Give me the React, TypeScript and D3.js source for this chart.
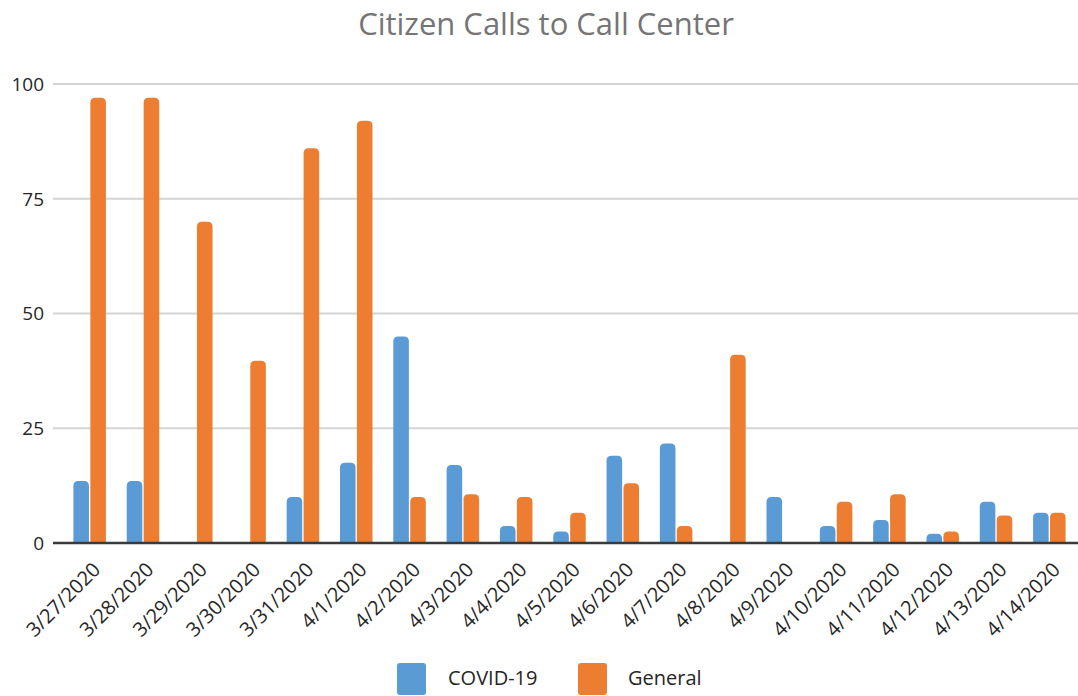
import React, { useRef, useEffect } from 'react';
import * as d3 from 'd3';

const dates = [
  '3/27/2020', '3/28/2020', '3/29/2020', '3/30/2020', '3/31/2020', '4/1/2020',
  '4/2/2020', '4/3/2020', '4/4/2020', '4/5/2020', '4/6/2020', '4/7/2020',
  '4/8/2020', '4/9/2020', '4/10/2020', '4/11/2020', '4/12/2020', '4/13/2020', '4/14/2020',
];
const covid = [13.5, 13.5, 0, 0, 10, 17.5, 45, 17, 3.7, 2.5, 19, 21.7, 0, 10, 3.7, 5, 2, 9, 6.6];
const general = [97, 97, 70, 39.7, 86, 92, 10, 10.6, 10, 6.6, 13, 3.7, 41, 0, 9, 10.6, 2.5, 6, 6.6];
const seriesNames = ['COVID-19', 'General'];
const yTicks = [0, 25, 50, 75, 100];

const colors = ['#5B9BD5', '#ED7D31'];
const font = '"Open Sans", sans-serif';

const App = () => {
  const svgRef = useRef<SVGSVGElement>(null);

  useEffect(() => {
    const width = 1078;
    const height = 696;
    const plot = { left: 63, right: 1076, top: 84, bottom: 543 };
    const gridLeft = 53;

    const svg = d3.select(svgRef.current)
      .attr('width', width)
      .attr('height', height)
      .style('background', '#ffffff');
    svg.selectAll('*').remove();

    const x = d3.scaleBand<string>()
      .domain(dates)
      .range([plot.left, plot.right])
      .paddingInner(0)
      .paddingOuter(0);

    // inner band for the two series, centred in each date slot
    const clusterWidth = x.bandwidth() * 0.61;
    const xSeries = d3.scaleBand<string>()
      .domain(seriesNames)
      .range([0, clusterWidth])
      .paddingInner(0.08);

    const y = d3.scaleLinear()
      .domain([0, 100])
      .range([plot.bottom, plot.top]);

    // title
    svg.append('text')
      .attr('x', 546)
      .attr('y', 35)
      .attr('text-anchor', 'middle')
      .style('font-family', font)
      .style('font-size', '31px')
      .style('fill', '#757575')
      .text('Citizen Calls to Call Center');

    // gridlines + y labels
    const grid = svg.append('g');
    grid.selectAll('line')
      .data(yTicks.filter((t) => t !== 0))
      .join('line')
      .attr('x1', gridLeft)
      .attr('x2', width)
      .attr('y1', (d) => y(d))
      .attr('y2', (d) => y(d))
      .attr('stroke', '#d4d4d4')
      .attr('stroke-width', 2);

    svg.append('g')
      .selectAll('text')
      .data(yTicks)
      .join('text')
      .attr('x', 44)
      .attr('y', (d) => y(d))
      .attr('dy', '0.36em')
      .attr('text-anchor', 'end')
      .style('font-family', font)
      .style('font-size', '19px')
      .style('fill', '#262626')
      .text((d) => String(d));

    // bars with rounded tops
    const barPath = (x0: number, w: number, v: number) => {
      const y0 = y(0);
      const y1 = y(v);
      const r = Math.min(5, w / 2, (y0 - y1));
      const p = d3.path();
      p.moveTo(x0, y0);
      p.lineTo(x0, y1 + r);
      p.quadraticCurveTo(x0, y1, x0 + r, y1);
      p.lineTo(x0 + w - r, y1);
      p.quadraticCurveTo(x0 + w, y1, x0 + w, y1 + r);
      p.lineTo(x0 + w, y0);
      p.closePath();
      return p.toString();
    };

    const series = [covid, general];
    series.forEach((values, si) => {
      svg.append('g')
        .selectAll('path')
        .data(values.map((v, i) => ({ v, date: dates[i] })).filter((d) => d.v > 0))
        .join('path')
        .attr('d', (d) => {
          const x0 = (x(d.date) as number) + (x.bandwidth() - clusterWidth) / 2 + (xSeries(seriesNames[si]) as number);
          return barPath(x0, xSeries.bandwidth(), d.v);
        })
        .attr('fill', colors[si]);
    });

    // zero axis line
    svg.append('line')
      .attr('x1', gridLeft)
      .attr('x2', width)
      .attr('y1', y(0))
      .attr('y2', y(0))
      .attr('stroke', '#3a3a3a')
      .attr('stroke-width', 2.5);

    // x labels, rotated
    svg.append('g')
      .selectAll('text')
      .data(dates)
      .join('text')
      .attr('transform', (d) => {
        const cx = (x(d) as number) + x.bandwidth() / 2 + 7;
        return `translate(${cx}, ${y(0) + 23}) rotate(-45)`;
      })
      .attr('text-anchor', 'end')
      .attr('dy', '0.35em')
      .style('font-family', font)
      .style('font-size', '20px')
      .style('fill', '#262626')
      .text((d) => d);

    // legend
    const legendItems = [
      { name: seriesNames[0], sx: 397, tx: 448 },
      { name: seriesNames[1], sx: 578, tx: 628 },
    ];
    const legend = svg.append('g');
    legendItems.forEach((item, i) => {
      legend.append('rect')
        .attr('x', item.sx)
        .attr('y', 663)
        .attr('width', 29)
        .attr('height', 32)
        .attr('rx', 3)
        .attr('fill', colors[i]);
      legend.append('text')
        .attr('x', item.tx)
        .attr('y', 685)
        .style('font-family', font)
        .style('font-size', '20px')
        .style('fill', '#262626')
        .text(item.name);
    });
  }, []);

  return (
    <svg
      ref={svgRef}
      style={{ position: 'absolute', left: 0, top: 0, display: 'block' }}
    ></svg>
  );
};

export default App;
